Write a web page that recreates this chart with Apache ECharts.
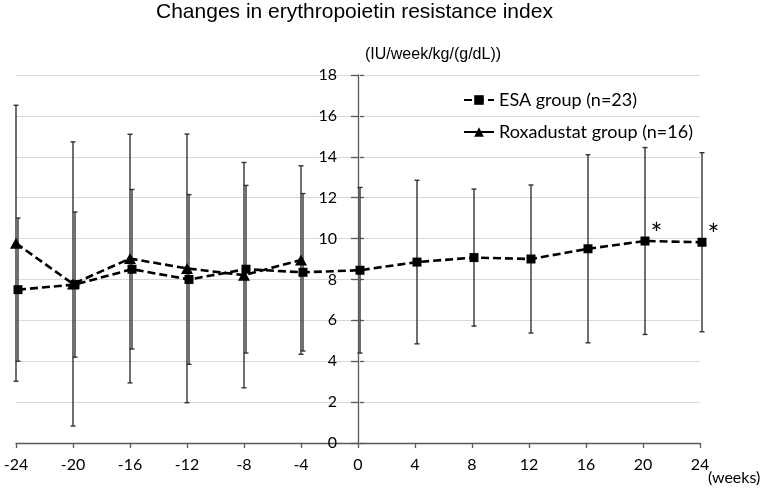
<!DOCTYPE html>
<html>
<head>
<meta charset="utf-8">
<script src="https://cdn.jsdelivr.net/npm/echarts@6/dist/echarts.min.js"></script>
<style>
    html, body { margin: 0; padding: 0; background: #fff; }
    #chart { width: 765px; height: 495px; }
</style>
</head>
<body>
<div id="chart"></div>
<script>
// weeks from switching
var weeks = [-24, -20, -16, -12, -8, -4, 0, 4, 8, 12, 16, 20, 24];
var esaMean = [7.5, 7.75, 8.5, 8.0, 8.5, 8.35, 8.45, 8.85, 9.07, 9.0, 9.5, 9.88, 9.82];
var esaSD = [3.5, 3.55, 3.9, 4.15, 4.1, 3.85, 4.05, 4.0, 3.35, 3.62, 4.6, 4.57, 4.38];
var esaSig = ['', '', '', '', '', '', '', '', '', '', '', '*', '*'];

var roxWeeks = [-24, -20, -16, -12, -8, -4];
var roxMean = [9.77, 7.78, 9.02, 8.54, 8.21, 8.95];
var roxSD = [6.75, 6.95, 6.08, 6.57, 5.51, 4.61];

var xTicks = { min: -24, max: 24, interval: 4 };
var yTicks = { min: 0, max: 18, interval: 2 };

var labelFont = 'Lato, "Noto Sans", sans-serif';
var arialFont = '"Liberation Sans", Arial, sans-serif';

// plot box (the y axis sits on week 0, in the middle)
var plotLeft = 16, plotRight = 65, plotTop = 75, plotBottom = 52;
var yAxisShift = -(765 - plotLeft - plotRight) / 2;
var esaNudge = 2; // ESA marks sit a little right of the roxadustat ones

var myChart = echarts.init(document.querySelector('#chart'));

function pointData(xs, means, marks) {
    var out = [];
    for (var i = 0; i < xs.length; i++) {
        var item = { value: [xs[i], means[i]] };
        if (marks && marks[i]) {
            item.label = {
                show: true,
                formatter: marks[i],
                position: 'right',
                distance: 1,
                offset: [0, -6],
                fontSize: 28,
                color: '#000',
                fontFamily: labelFont
            };
        }
        out.push(item);
    }
    return out;
}

function barData(xs, means, sds) {
    var out = [];
    for (var i = 0; i < xs.length; i++) {
        out.push([xs[i], means[i] - sds[i], means[i] + sds[i]]);
    }
    return out;
}

function errorBarItem(params, api) {
    var x = api.value(0);
    var top = api.coord([x, api.value(2)]);
    var bot = api.coord([x, api.value(1)]);
    var w = 2.5;
    var st = { stroke: '#333', lineWidth: 1.4 };
    return {
        type: 'group',
        children: [
            { type: 'line', shape: { x1: top[0], y1: top[1], x2: bot[0], y2: bot[1] }, style: st },
            { type: 'line', shape: { x1: top[0] - w, y1: top[1], x2: top[0] + w, y2: top[1] }, style: st },
            { type: 'line', shape: { x1: bot[0] - w, y1: bot[1], x2: bot[0] + w, y2: bot[1] }, style: st }
        ]
    };
}

var dashed = { color: '#000', width: 2.6, type: [8, 4] };

var option = {
    backgroundColor: '#fff',
    animation: false,
    title: {
        text: 'Changes in erythropoietin resistance index',
        left: 156,
        top: 2,
        padding: 0,
        textStyle: { color: '#000', fontSize: 21, fontWeight: 'normal', fontFamily: arialFont }
    },
    legend: {
        orient: 'vertical',
        left: 463,
        top: 91,
        padding: 0,
        itemWidth: 30,
        itemHeight: 12,
        itemGap: 14,
        textStyle: { color: '#000', fontSize: 18, fontFamily: labelFont },
        data: [
            { name: 'ESA group (n=23)' },
            { name: 'Roxadustat group (n=16)', lineStyle: { type: 'solid' } }
        ]
    },
    grid: [
        { left: plotLeft, right: plotRight, top: plotTop, bottom: plotBottom, containLabel: false, outerBoundsMode: 'none' },
        { left: plotLeft + esaNudge, right: plotRight - esaNudge, top: plotTop, bottom: plotBottom, containLabel: false, outerBoundsMode: 'none' }
    ],
    xAxis: [{
        gridIndex: 0,
        type: 'value',
        min: xTicks.min,
        max: xTicks.max,
        interval: xTicks.interval,
        axisLine: { onZero: false, lineStyle: { color: '#595959', width: 1.3 } },
        axisTick: { length: 5, lineStyle: { color: '#595959', width: 1.3 } },
        axisLabel: { color: '#000', fontSize: 16, margin: 14, fontFamily: labelFont },
        splitLine: { show: false }
    }, {
        gridIndex: 1,
        type: 'value',
        show: false,
        min: xTicks.min,
        max: xTicks.max,
        interval: xTicks.interval
    }],
    yAxis: [{
        gridIndex: 0,
        type: 'value',
        position: 'left',
        offset: yAxisShift,
        min: yTicks.min,
        max: yTicks.max,
        interval: yTicks.interval,
        name: '(IU/week/kg/(g/dL))',
        nameLocation: 'end',
        nameGap: 12,
        nameTextStyle: { color: '#000', fontSize: 16, align: 'left', padding: [0, 0, 0, 7], fontFamily: arialFont },
        axisLine: { show: true, onZero: false, lineStyle: { color: '#595959', width: 1.3 } },
        axisTick: { show: true, length: 7, lineStyle: { color: '#595959', width: 1.3 } },
        axisLabel: { color: '#000', fontSize: 16, margin: 21, fontFamily: labelFont },
        splitLine: { lineStyle: { color: '#d9d9d9', width: 1.2 } }
    }, {
        gridIndex: 1,
        type: 'value',
        position: 'left',
        offset: yAxisShift,
        min: yTicks.min,
        max: yTicks.max,
        interval: yTicks.interval,
        axisLine: { show: false, onZero: false },
        axisTick: { show: true, inside: true, length: 4, lineStyle: { color: '#595959', width: 1.3 } },
        axisLabel: { show: false },
        splitLine: { show: false }
    }],
    series: [{
        type: 'custom',
        name: 'roxBars',
        xAxisIndex: 0,
        yAxisIndex: 0,
        renderItem: errorBarItem,
        encode: { x: 0, y: [1, 2] },
        data: barData(roxWeeks, roxMean, roxSD),
        z: 1
    }, {
        type: 'custom',
        name: 'esaBars',
        xAxisIndex: 1,
        yAxisIndex: 1,
        renderItem: errorBarItem,
        encode: { x: 0, y: [1, 2] },
        data: barData(weeks, esaMean, esaSD),
        z: 1
    }, {
        type: 'line',
        name: 'Roxadustat group (n=16)',
        xAxisIndex: 0,
        yAxisIndex: 0,
        data: pointData(roxWeeks, roxMean),
        symbol: 'triangle',
        symbolSize: [12, 11],
        showAllSymbol: true,
        itemStyle: { color: '#000' },
        lineStyle: dashed,
        z: 3
    }, {
        type: 'line',
        name: 'ESA group (n=23)',
        xAxisIndex: 1,
        yAxisIndex: 1,
        data: pointData(weeks, esaMean, esaSig),
        symbol: 'rect',
        symbolSize: 9,
        showAllSymbol: true,
        itemStyle: { color: '#000' },
        lineStyle: dashed,
        z: 4
    }],
    graphic: [{
        type: 'text',
        left: 708,
        top: 470,
        style: { text: '(weeks)', fill: '#000', font: '16px ' + labelFont }
    }]
};
myChart.setOption(option);
</script>
</body>
</html>
